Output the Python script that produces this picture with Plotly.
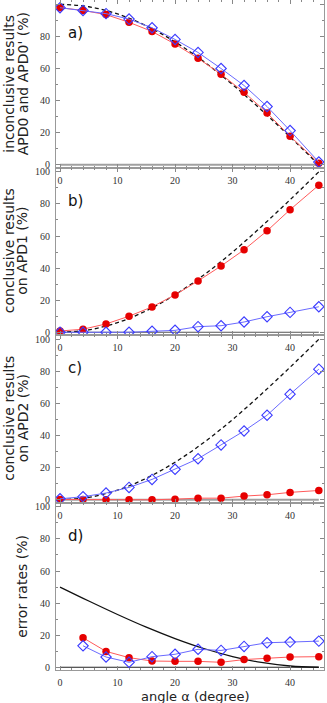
import plotly.graph_objects as go

angle = [0, 4, 8, 12, 16, 20, 24, 28, 32, 36, 40, 45]
angle_err = [4, 8, 12, 16, 20, 24, 28, 32, 36, 40, 45]
theory_angle = [0, 5, 10, 15, 20, 25, 30, 35, 40, 45]
zero_span = [0, 45]

# a) inconclusive results
inconcl_red = [97.9, 96.2, 93.6, 88.8, 83.1, 75.2, 66.4, 56.4, 45.2, 32.3, 17.8, 1.0]
inconcl_blue = [97.9, 96.2, 94.2, 90.8, 85.4, 78.1, 70.0, 60.0, 49.4, 36.3, 21.3, 1.7]
inconcl_theory = [100, 98.5, 94.0, 86.6, 76.6, 64.3, 50.0, 34.2, 17.4, 0]

# b) conclusive on APD1
apd1_red = [0.8, 1.9, 5.2, 10.0, 15.8, 23.3, 32.0, 41.3, 51.4, 63.2, 76.4, 91.7]
apd1_blue = [0, 0, 0, 0, 0.6, 1.2, 3.5, 4.1, 6.4, 9.7, 12.4, 15.9]
apd_theory = [0, 1.5, 6.0, 13.4, 23.4, 35.7, 50.0, 65.8, 82.6, 100]

# c) conclusive on APD2
apd2_red = [0.2, 0.1, 0, 0, 0, 0.4, 1.0, 1.0, 2.3, 3.1, 4.6, 5.8]
apd2_blue = [0.6, 1.9, 4.2, 7.7, 12.7, 19.0, 25.6, 34.2, 42.9, 52.7, 65.8, 81.4]

# d) error rates
err_red = [18.4, 9.9, 6.0, 3.9, 3.7, 3.7, 3.1, 4.8, 5.6, 6.4, 6.6]
err_blue = [13.4, 6.4, 3.1, 6.6, 8.1, 11.2, 10.5, 13.0, 15.3, 15.7, 16.3]
err_theory = [50, 41.3, 32.9, 25.0, 17.9, 11.7, 6.7, 3.0, 0.8, 0]

panels = [
    dict(tag="a)", red_x=angle, red=inconcl_red, blue_x=angle, blue=inconcl_blue,
         theory=inconcl_theory, dash="4px,3px", zero_color="#a0a0a0", zero_w=2,
         title=["inconclusive results", "APD0 and APD0' (%)"]),
    dict(tag="b)", red_x=angle, red=apd1_red, blue_x=angle, blue=apd1_blue,
         theory=apd_theory, dash="4px,3px", zero_color="#555555", zero_w=1.2,
         title=["conclusive results", "on APD1 (%)"]),
    dict(tag="c)", red_x=angle, red=apd2_red, blue_x=angle, blue=apd2_blue,
         theory=apd_theory, dash="4px,3px", zero_color="#a0a0a0", zero_w=2,
         title=["conclusive results", "on APD2 (%)"]),
    dict(tag="d)", red_x=angle_err, red=err_red, blue_x=angle_err, blue=err_blue,
         theory=err_theory, dash="solid", zero_color="#222222", zero_w=1.2,
         title=[None, "error rates (%)"]),
]

W, H = 327, 703
ML, MR, MT, MB = 56, 3, 0, 33
plot_h = H - MT - MB
plot_w = W - ML - MR
panel_h = plot_h / 4

RED = "#e60000"
RED_LINE = "#ff5a5a"
BLUE = "#3a3aff"
BLUE_LINE = "#6a6aff"
TICK_FONT = dict(family="Liberation Serif", size=10, color="#333333")
TITLE_FONT = dict(family="DejaVu Sans", size=14, color="#222222")

fig = go.Figure()
annotations = []
layout = {}

for i, p in enumerate(panels):
    n = "" if i == 0 else str(i + 1)
    xa, ya = "x" + n, "y" + n
    top = panel_h * i
    bot = panel_h * (i + 1)

    fig.add_trace(go.Scatter(x=zero_span, y=[0, 0], mode="lines", xaxis=xa, yaxis=ya,
                             line=dict(color=p["zero_color"], width=p["zero_w"]),
                             showlegend=False, hoverinfo="skip"))
    fig.add_trace(go.Scatter(x=theory_angle, y=p["theory"], mode="lines", xaxis=xa, yaxis=ya,
                             line=dict(color="#111111", width=1.3, dash=p["dash"], shape="spline"),
                             showlegend=False))
    fig.add_trace(go.Scatter(x=p["red_x"], y=p["red"], mode="lines+markers", xaxis=xa, yaxis=ya,
                             line=dict(color=RED_LINE, width=1),
                             marker=dict(symbol="circle", size=7.5, color=RED,
                                         line=dict(color=RED, width=0)),
                             showlegend=False))
    fig.add_trace(go.Scatter(x=p["blue_x"], y=p["blue"], mode="lines+markers", xaxis=xa, yaxis=ya,
                             line=dict(color=BLUE_LINE, width=1),
                             marker=dict(symbol="diamond-open", size=8, color=BLUE,
                                         line=dict(color=BLUE, width=1.1)),
                             showlegend=False))

    layout["xaxis" + n] = dict(
        domain=[0, 1], anchor=ya, range=[-0.7, 45.9],
        tickvals=[0, 10, 20, 30, 40], ticks="inside", ticklen=4, tickcolor="#888888",
        minor=dict(dtick=2, tick0=0, ticks="inside", ticklen=2, tickcolor="#888888"),
        showline=True, linecolor="#999999", linewidth=1, mirror="allticks",
        showgrid=False, zeroline=False, tickfont=TICK_FONT, ticklabelstandoff=3,
    )
    layout["yaxis" + n] = dict(
        domain=[1 - bot / plot_h, 1 - top / plot_h], anchor=xa, range=[-1.7, 102.7],
        tickvals=[0, 20, 40, 60, 80, 100], ticks="inside", ticklen=4, tickcolor="#888888",
        minor=dict(dtick=10, tick0=0, ticks="inside", ticklen=2, tickcolor="#888888"),
        showline=True, linecolor="#999999", linewidth=1, mirror="allticks",
        showgrid=False, zeroline=False, tickfont=TICK_FONT, ticklabelstandoff=3,
    )

    annotations.append(dict(text=p["tag"], xref=xa, yref=ya, x=1.0, y=82,
                            xanchor="left", yanchor="middle", showarrow=False,
                            font=dict(family="DejaVu Sans", size=15, color="#111111")))
    yc = 1 - (top + bot) / 2 / plot_h
    for line_text, px in zip(p["title"], [9, 22.5]):
        if line_text is None:
            continue
        annotations.append(dict(text=line_text, xref="paper", yref="paper",
                                x=(px - ML) / plot_w, y=yc, xanchor="center", yanchor="middle",
                                textangle=-90, showarrow=False, font=TITLE_FONT))

annotations.append(dict(text="angle α (degree)", xref="paper", yref="paper",
                        x=(195 - ML) / plot_w, y=-(696 - MT - plot_h) / plot_h,
                        xanchor="center", yanchor="middle", showarrow=False,
                        font=dict(family="DejaVu Sans", size=13, color="#222222")))

fig.update_layout(
    width=W, height=H,
    margin=dict(l=ML, r=MR, t=MT, b=MB),
    paper_bgcolor="white", plot_bgcolor="white",
    showlegend=False,
    annotations=annotations,
    **layout,
)

# the page has a default 8px body margin; drop it so the chart sits at the corner
fig.write_html("out.html", config={"displayModeBar": False},
               post_script="document.body.style.margin='0';")
